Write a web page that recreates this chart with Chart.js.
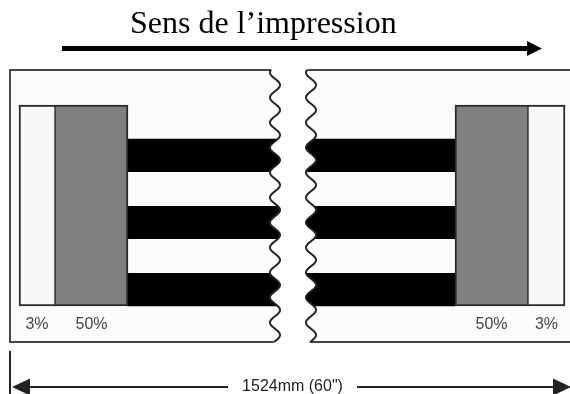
<!DOCTYPE html>
<html lang="fr">
<head>
<meta charset="utf-8">
<script src="https://cdn.jsdelivr.net/npm/chart.js@4.4.1/dist/chart.umd.min.js"></script>
<style>
  html, body { margin: 0; padding: 0; background: #fff; }
  #diagram { display: block; }
</style>
</head>
<body>
<canvas id="diagram" width="570" height="394"></canvas>
<script>
const titleText = "Sens de l’impression";
const edgeLabels = ["3%", "50%"];
const edgeInk = [3, 50]; // taux d'encre des bandes de bord
const stripeRows = [1, 2, 3]; // bandes noires (100%)
const widthLabel = "1524mm (60\")";

// layout, in figure pixels (x and y scales are 1:1 with the canvas)
const W = 570, H = 394;
const panel = { top: 70, bottom: 342, left: 10 };
const box = { top: 105, bottom: 306 };
const leftBoxes = [[19, 55], [55, 128]];
const rightBoxes = [[528, 565], [455, 528]];
const stripe = { first: 155.3, pitch: 67.2, height: 32.5, from: 128, to: 455 };
const wave = { left: 275, right: 311, amp: 5, period: 25, peak: 160 };

const gray = (ink) => {
  const v = Math.round(255 * (1 - ink / 100));
  return `rgb(${v}, ${v}, ${v})`;
};

// inner side of each edge block is thinner so shared edges stay ~2px
const boxBorder = (i) => (ctx) => {
  const outerFirst = (i === 0) === (ctx.dataIndex === 0);
  return outerFirst
    ? { top: 2, bottom: 2, left: 2, right: 1 }
    : { top: 2, bottom: 2, left: 1, right: 2 };
};

const boxDatasets = edgeInk.map((ink, i) => ({
  label: edgeLabels[i],
  data: [
    { x: leftBoxes[i], y: (box.top + box.bottom) / 2 },
    { x: rightBoxes[i], y: (box.top + box.bottom) / 2 },
  ],
  backgroundColor: gray(ink),
  borderColor: "#2b2b2b",
  borderWidth: boxBorder(i),
  borderSkipped: false,
  barThickness: box.bottom - box.top,
  stack: "diagram",
}));

const stripeDataset = {
  label: "100%",
  data: stripeRows.map((r) => ({
    x: [stripe.from, stripe.to],
    y: stripe.first + (r - 1) * stripe.pitch,
  })),
  backgroundColor: "#000",
  borderWidth: 0,
  barThickness: stripe.height,
  stack: "diagram",
};

function waveX(center, yy) {
  return center + wave.amp * Math.cos((2 * Math.PI * (yy - wave.peak)) / wave.period);
}

function arrowHead(ctx, tipX, tipY, dir, len, half) {
  ctx.beginPath();
  ctx.moveTo(tipX, tipY);
  ctx.lineTo(tipX - dir * len, tipY - half);
  ctx.lineTo(tipX - dir * len, tipY + half);
  ctx.closePath();
  ctx.fill();
}

const decorations = {
  id: "decorations",
  beforeDatasetsDraw(chart) {
    const { ctx } = chart;
    const px = (v) => chart.scales.x.getPixelForValue(v);
    const py = (v) => chart.scales.y.getPixelForValue(v);
    ctx.save();
    ctx.fillStyle = "#fcfcfc";
    ctx.fillRect(px(panel.left), py(panel.top), px(W) - px(panel.left), py(panel.bottom) - py(panel.top));
    ctx.strokeStyle = "#444";
    ctx.lineWidth = 2;
    ctx.beginPath();
    ctx.moveTo(px(W + 2), py(panel.top));
    ctx.lineTo(px(panel.left), py(panel.top));
    ctx.lineTo(px(panel.left), py(panel.bottom));
    ctx.lineTo(px(W + 2), py(panel.bottom));
    ctx.stroke();
    ctx.restore();
  },
  afterDatasetsDraw(chart) {
    const { ctx } = chart;
    const px = (v) => chart.scales.x.getPixelForValue(v);
    const py = (v) => chart.scales.y.getPixelForValue(v);
    ctx.save();

    // break in the web
    const y0 = panel.top - 2, y1 = panel.bottom + 2;
    ctx.fillStyle = "#fff";
    ctx.beginPath();
    for (let yy = y0; yy <= y1; yy += 0.5) ctx.lineTo(px(waveX(wave.left, yy)), py(yy));
    for (let yy = y1; yy >= y0; yy -= 0.5) ctx.lineTo(px(waveX(wave.right, yy)), py(yy));
    ctx.closePath();
    ctx.fill();

    ctx.strokeStyle = "#222";
    ctx.lineWidth = 2;
    [wave.left, wave.right].forEach((c) => {
      ctx.beginPath();
      for (let yy = panel.top; yy <= panel.bottom; yy += 0.5) ctx.lineTo(px(waveX(c, yy)), py(yy));
      ctx.stroke();
    });

    // edge labels under the blocks
    ctx.fillStyle = "#444";
    ctx.font = "16px 'Liberation Sans', Arial, sans-serif";
    ctx.textAlign = "center";
    ctx.textBaseline = "middle";
    edgeLabels.forEach((label, i) => {
      [leftBoxes[i], rightBoxes[i]].forEach(([a, b]) => {
        ctx.fillText(label, px((a + b) / 2), py(325));
      });
    });

    // title + print direction arrow
    ctx.fillStyle = "#000";
    ctx.font = "32px 'Liberation Serif', 'Times New Roman', serif";
    ctx.textAlign = "left";
    ctx.textBaseline = "alphabetic";
    ctx.fillText(titleText, px(130), py(33));

    ctx.strokeStyle = "#000";
    ctx.lineWidth = 5;
    ctx.beginPath();
    ctx.moveTo(px(62), py(48.5));
    ctx.lineTo(px(530), py(48.5));
    ctx.stroke();
    arrowHead(ctx, px(542), py(48.5), 1, 15, 7.5);

    // width dimension
    ctx.strokeStyle = "#222";
    ctx.fillStyle = "#222";
    ctx.lineWidth = 2;
    ctx.beginPath();
    ctx.moveTo(px(10), py(351));
    ctx.lineTo(px(10), py(H));
    ctx.moveTo(px(28), py(387));
    ctx.lineTo(px(228), py(387));
    ctx.moveTo(px(357), py(387));
    ctx.lineTo(px(553), py(387));
    ctx.stroke();
    arrowHead(ctx, px(12), py(387), -1, 18, 8.5);
    arrowHead(ctx, px(571), py(387), 1, 18, 8.5);

    ctx.font = "16px 'Liberation Sans', Arial, sans-serif";
    ctx.textAlign = "center";
    ctx.textBaseline = "middle";
    ctx.fillText(widthLabel, px(292.5), py(387));

    ctx.restore();
  },
};

new Chart(document.getElementById("diagram"), {
  type: "bar",
  data: { datasets: [...boxDatasets, stripeDataset] },
  options: {
    indexAxis: "y",
    responsive: false,
    devicePixelRatio: 1,
    animation: false,
    layout: { padding: 0 },
    scales: {
      x: { type: "linear", min: 0, max: W, display: false, offset: false, stacked: false },
      y: { type: "linear", min: 0, max: H, reverse: true, display: false, offset: false },
    },
    plugins: {
      legend: { display: false },
      tooltip: { enabled: false },
    },
  },
  plugins: [decorations],
});
</script>
</body>
</html>
